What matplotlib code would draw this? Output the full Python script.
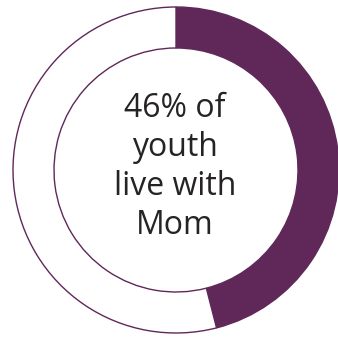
import matplotlib.pyplot as plt

# share of youth living with mom, rest of the ring left blank
labels = ['Mom', 'Other']
shares = [46, 54]
caption = '46% of\nyouth\nlive with\nMom'

purple = '#5f2859'

fig = plt.figure(figsize=(3.38, 3.37), dpi=100)
ax = fig.add_axes([0, 0, 1, 1])

wedges, _ = ax.pie(shares, labels=None, startangle=90, counterclock=False,
                   colors=[purple, 'white'], radius=163, center=(0, 0),
                   wedgeprops=dict(width=41, edgecolor=purple, linewidth=1.0))

ax.text(-1, 3, caption, ha='center', va='center', fontsize=23,
        family='Open Sans', color='#262324', linespacing=1.24)

ax.set_xlim(-176, 162)
ax.set_ylim(-167, 170)
ax.set_aspect('equal')
ax.axis('off')

fig.savefig('out.png', dpi=100)
